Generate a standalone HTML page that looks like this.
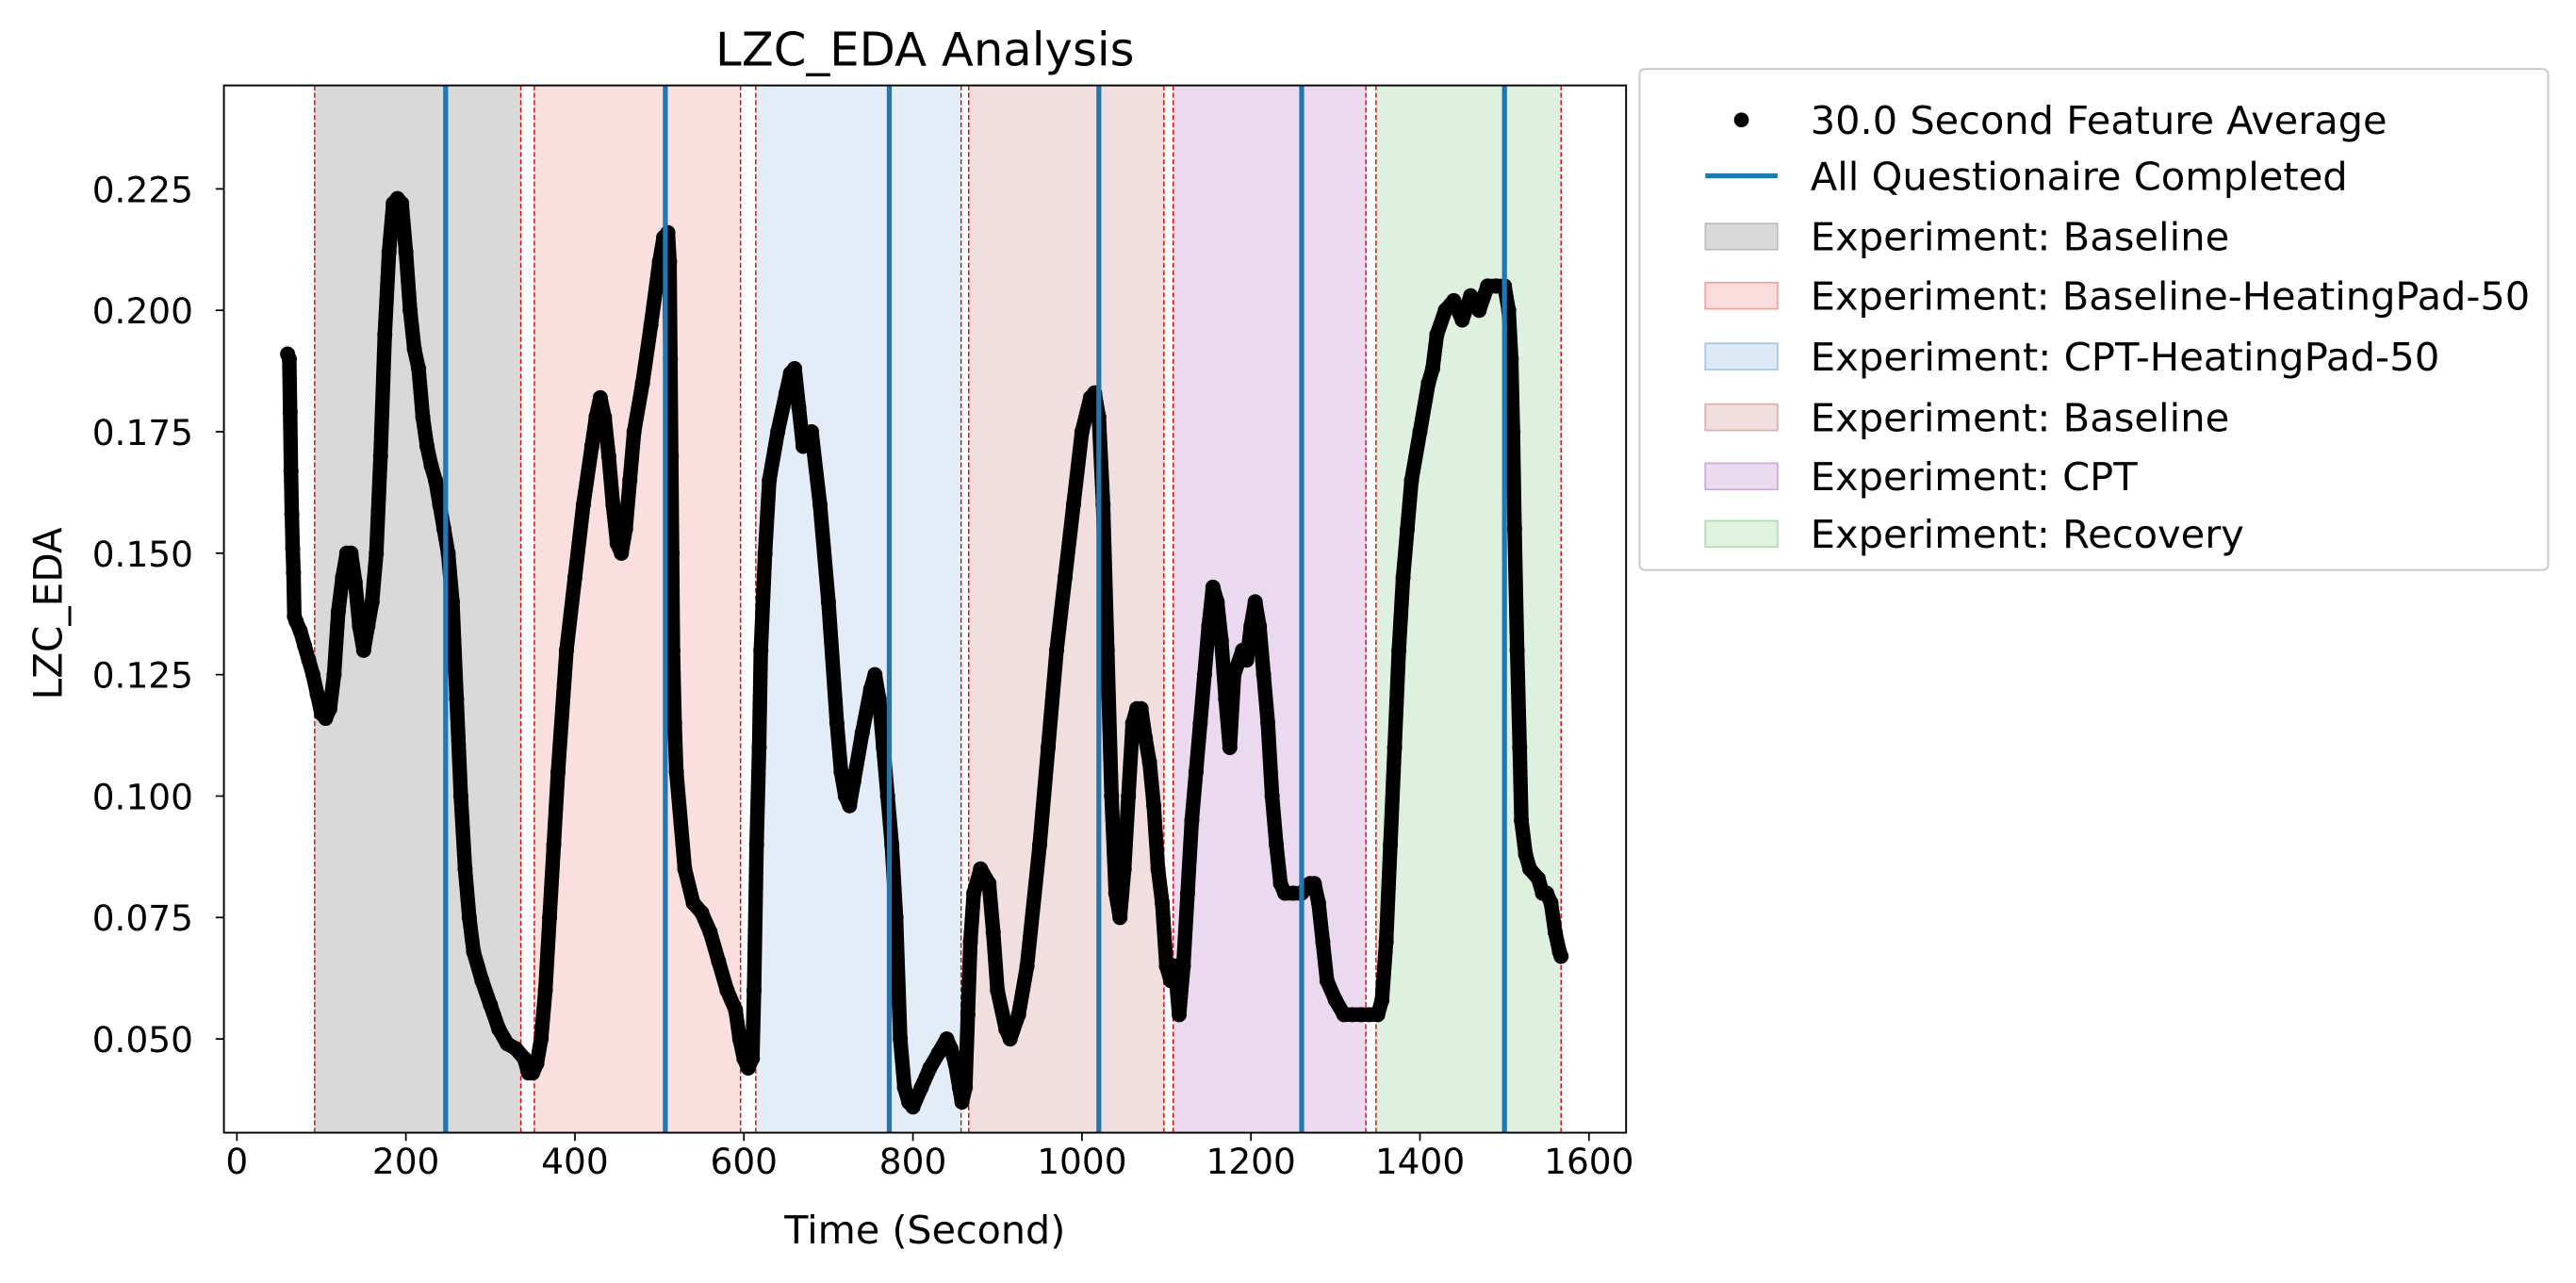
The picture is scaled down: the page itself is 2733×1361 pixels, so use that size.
<!DOCTYPE html>
<html><head><meta charset="utf-8"><style>
html,body{margin:0;padding:0;background:#fff;overflow:hidden;}
svg{display:block;font-family:"DejaVu Sans","Liberation Sans",sans-serif;}
</style></head><body>
<svg id="chart" width="2733" height="1361" viewBox="0 0 1568 781" preserveAspectRatio="none" xmlns="http://www.w3.org/2000/svg">
<text x="563" y="40" font-size="28" text-anchor="middle" textLength="255" lengthAdjust="spacingAndGlyphs">LZC_EDA Analysis</text>
<g id="plot"></g>
<text x="563" y="757" font-size="23.5" text-anchor="middle" textLength="171" lengthAdjust="spacingAndGlyphs">Time (Second)</text>
<text x="0" y="0" font-size="24" text-anchor="middle" transform="translate(37.5 373.5) rotate(-90)" textLength="105" lengthAdjust="spacingAndGlyphs">LZC_EDA</text>
<g font-size="23.5">
<rect x="998" y="42" width="553" height="305" fill="#fff" stroke="#ccc" stroke-width="1.2" rx="3"/>
<circle cx="1060" cy="73" r="4.5" fill="#000"/>
<text x="1102" y="81.5" textLength="351" lengthAdjust="spacingAndGlyphs">30.0 Second Feature Average</text>
<line x1="1038" y1="107" x2="1082" y2="107" stroke="#1f77b4" stroke-width="3"/>
<text x="1102" y="115.5" textLength="327" lengthAdjust="spacingAndGlyphs">All Questionaire Completed</text>
<rect x="1038" y="136" width="44" height="16" fill="#808080" fill-opacity="0.3" stroke="#808080" stroke-opacity="0.4"/>
<text x="1102" y="152.5" textLength="255" lengthAdjust="spacingAndGlyphs">Experiment: Baseline</text>
<rect x="1038" y="172" width="44" height="16" fill="#f08080" fill-opacity="0.28" stroke="#f4a0a0"/>
<text x="1102" y="188.5" textLength="438" lengthAdjust="spacingAndGlyphs">Experiment: Baseline-HeatingPad-50</text>
<rect x="1038" y="209" width="44" height="16" fill="#8fbbe0" fill-opacity="0.3" stroke="#a8c8e8"/>
<text x="1102" y="225.5" textLength="383" lengthAdjust="spacingAndGlyphs">Experiment: CPT-HeatingPad-50</text>
<rect x="1038" y="246" width="44" height="16" fill="#c88080" fill-opacity="0.25" stroke="#ddb0b0"/>
<text x="1102" y="262.5" textLength="255" lengthAdjust="spacingAndGlyphs">Experiment: Baseline</text>
<rect x="1038" y="282" width="44" height="16" fill="#b070c0" fill-opacity="0.25" stroke="#d0a8d8"/>
<text x="1102" y="298.5" textLength="199" lengthAdjust="spacingAndGlyphs">Experiment: CPT</text>
<rect x="1038" y="317" width="44" height="16" fill="#80c880" fill-opacity="0.25" stroke="#b0dcb0"/>
<text x="1102" y="333.5" textLength="264" lengthAdjust="spacingAndGlyphs">Experiment: Recovery</text>
</g>
</svg>
<script>
const times=[60,62,63,64,65,66,67,68,70,75,80,85,90,95,100,105,110,115,120,125,130,135,140,145,150,155,160,165,170,175,180,185,190,195,200,205,210,215,220,225,230,235,240,245,250,255,260,265,270,275,280,290,300,310,320,330,340,345,350,355,360,365,370,375,380,390,400,410,420,425,430,435,440,445,450,455,460,465,470,480,490,500,505,510,512,513,514,515,516,518,520,530,540,550,560,570,580,590,595,600,605,610,612,615,618,620,625,630,640,650,655,660,665,670,680,690,700,710,715,720,725,730,740,750,755,760,765,770,775,780,785,790,795,800,810,820,830,840,845,850,855,858,862,865,868,872,880,890,895,900,910,915,925,935,950,960,970,980,990,1000,1010,1015,1020,1025,1030,1035,1040,1045,1050,1055,1060,1065,1070,1075,1080,1085,1090,1095,1100,1105,1110,1115,1120,1125,1130,1135,1140,1145,1150,1155,1160,1165,1170,1175,1180,1190,1195,1200,1205,1210,1215,1220,1225,1230,1235,1240,1250,1260,1270,1275,1280,1285,1290,1300,1310,1320,1330,1340,1350,1355,1360,1365,1370,1375,1380,1385,1390,1400,1410,1415,1420,1430,1440,1450,1460,1470,1480,1490,1500,1505,1508,1510,1512,1515,1518,1520,1525,1530,1540,1545,1550,1555,1560,1565,1567];
const values=[0.191,0.190,0.179,0.167,0.158,0.151,0.146,0.137,0.136,0.134,0.131,0.128,0.125,0.121,0.117,0.116,0.118,0.125,0.138,0.145,0.150,0.150,0.144,0.135,0.130,0.135,0.140,0.150,0.170,0.195,0.212,0.222,0.223,0.222,0.212,0.200,0.192,0.188,0.178,0.172,0.168,0.165,0.160,0.155,0.150,0.140,0.120,0.100,0.085,0.075,0.068,0.062,0.057,0.052,0.049,0.048,0.046,0.043,0.043,0.045,0.050,0.060,0.075,0.090,0.105,0.130,0.145,0.160,0.172,0.178,0.182,0.178,0.170,0.160,0.152,0.150,0.155,0.165,0.175,0.185,0.197,0.210,0.215,0.216,0.210,0.190,0.170,0.150,0.130,0.115,0.105,0.085,0.078,0.076,0.072,0.066,0.060,0.056,0.050,0.046,0.044,0.046,0.060,0.090,0.110,0.130,0.150,0.165,0.175,0.183,0.187,0.188,0.180,0.172,0.175,0.160,0.140,0.115,0.105,0.100,0.098,0.103,0.113,0.122,0.125,0.120,0.110,0.100,0.090,0.075,0.050,0.040,0.037,0.036,0.040,0.044,0.047,0.050,0.048,0.045,0.040,0.037,0.040,0.055,0.070,0.080,0.085,0.082,0.072,0.060,0.052,0.050,0.055,0.065,0.090,0.110,0.130,0.145,0.160,0.175,0.182,0.183,0.178,0.160,0.130,0.100,0.080,0.075,0.085,0.100,0.115,0.118,0.118,0.112,0.107,0.098,0.085,0.078,0.065,0.062,0.065,0.055,0.065,0.080,0.095,0.105,0.115,0.125,0.135,0.143,0.140,0.132,0.120,0.110,0.125,0.130,0.128,0.135,0.140,0.135,0.125,0.115,0.100,0.090,0.082,0.080,0.080,0.080,0.082,0.082,0.078,0.070,0.062,0.058,0.055,0.055,0.055,0.055,0.055,0.058,0.070,0.090,0.110,0.130,0.145,0.155,0.165,0.175,0.185,0.188,0.195,0.200,0.202,0.198,0.203,0.200,0.205,0.205,0.205,0.200,0.190,0.175,0.155,0.130,0.110,0.095,0.088,0.085,0.083,0.080,0.080,0.078,0.072,0.068,0.067];
const phaseStarts=[92,352,614,866,1108,1348];
const phaseEnds=[336,596,857,1097,1336,1567];
const phaseColors=["#808080","#f08080","#8fbbe0","#c88080","#b070c0","#80c880"];
const phaseNames=["baseline","baseline-heatingpad","cpt-heatingpad","baseline-2","cpt","recovery"];
const questionnaire=[247,507,772,1020,1260,1500];
const xTicks=[0,200,400,600,800,1000,1200,1400,1600];
const yTicks=[0.050,0.075,0.100,0.125,0.150,0.175,0.200,0.225];

const L=136.3,R=989.8,T=52,B=689.5;
const X0=0.0307,X1=0.2463;
function xs(t){return 144.2+t*(967.2-144.2)/1600;}
function ys(v){return B-(v-X0)/(X1-X0)*(B-T);}
const NS="http://www.w3.org/2000/svg";
const g=document.getElementById('plot');
function mk(tag,attrs){const e=document.createElementNS(NS,tag);for(const k in attrs)e.setAttribute(k,attrs[k]);g.appendChild(e);return e;}
for(let i=0;i<phaseStarts.length;i++){
  const r=mk('rect',{x:xs(phaseStarts[i]),y:T,width:xs(phaseEnds[i])-xs(phaseStarts[i]),height:B-T,fill:phaseColors[i],'fill-opacity':i==0?0.3:0.26});
  
  
}
const reds=phaseStarts.concat(phaseEnds);
for(const t of reds){
  const l=mk('line',{x1:xs(t),x2:xs(t),y1:T,y2:B,stroke:'#e00000','stroke-width':0.8,'stroke-dasharray':'3,1.5'});
  
  
}
let pts=[];
for(let i=0;i<times.length;i++)pts.push(xs(times[i]).toFixed(2)+','+ys(values[i]).toFixed(2));
const pl=mk('polyline',{points:pts.join(' '),fill:'none',stroke:'#000','stroke-width':8.8,'stroke-linejoin':'round','stroke-linecap':'round'});


for(let i=0;i<times.length;i++){
  const c=mk('circle',{cx:xs(times[i]),cy:ys(values[i]),r:4.6,fill:'#000'});
  
  
}
for(const t of questionnaire){
  const l=mk('line',{x1:xs(t),x2:xs(t),y1:T,y2:B,stroke:'#1f77b4','stroke-width':3});
  
  
}
const fr=mk('rect',{x:L,y:T,width:R-L,height:B-T,fill:'none',stroke:'#000','stroke-width':1.1});


for(const t of xTicks){
  const x=xs(t);
  const tk=mk('line',{x1:x,x2:x,y1:B,y2:B+5,stroke:'#000','stroke-width':1});
  
  
  const tx=mk('text',{x:x,y:B+25,'font-size':21.5,'text-anchor':'middle'});
  tx.textContent=t;
  
  
}
for(const v of yTicks){
  const y=ys(v);
  const tk=mk('line',{x1:L-5,x2:L,y1:y,y2:y,stroke:'#000','stroke-width':1});
  
  
  const tx=mk('text',{x:117.6,y:y+8,'font-size':21.5,'text-anchor':'end'});
  tx.textContent=v.toFixed(3);
  
  
}
</script>
</body></html>
